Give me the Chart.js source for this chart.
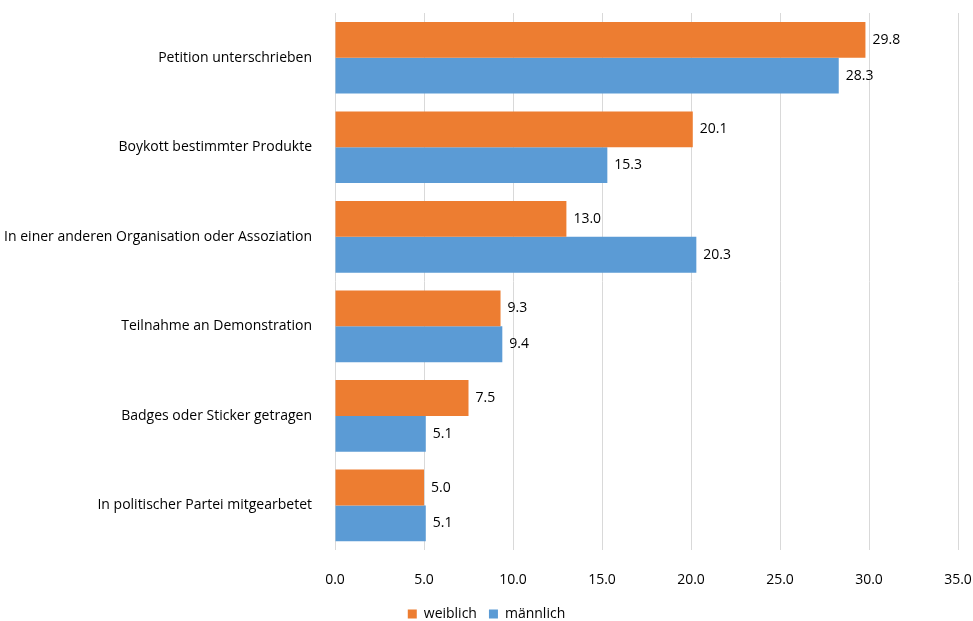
<!DOCTYPE html>
<html>
<head>
<meta charset="utf-8">
<script src="https://cdn.jsdelivr.net/npm/chart.js@4"></script>
<style>
  html, body { margin: 0; padding: 0; background: #fff; }
  #chart { display: block; }
</style>
</head>
<body>
<canvas id="chart" width="973" height="621"></canvas>
<script>
const categories = [
    'Petition unterschrieben',
    'Boykott bestimmter Produkte',
    'In einer anderen Organisation oder Assoziation',
    'Teilnahme an Demonstration',
    'Badges oder Sticker getragen',
    'In politischer Partei mitgearbetet'
];
const weiblich = [29.8, 20.1, 13.0, 9.3, 7.5, 5.0];
const maennlich = [28.3, 15.3, 20.3, 9.4, 5.1, 5.1];
const xTicks = [0, 5, 10, 15, 20, 25, 30, 35];

const fontFamily = '"Open Sans", "Liberation Sans", sans-serif';

// simple value labels at bar ends
const valueLabels = {
    id: 'valueLabels',
    afterDatasetsDraw(chart) {
        const ctx = chart.ctx;
        ctx.save();
        ctx.font = '14px ' + fontFamily;
        ctx.fillStyle = '#000';
        ctx.textBaseline = 'middle';
        ctx.textAlign = 'left';
        chart.data.datasets.forEach((ds, i) => {
            chart.getDatasetMeta(i).data.forEach((bar, j) => {
                ctx.fillText(ds.data[j].toFixed(1), bar.x + 7, bar.y);
            });
        });
        ctx.restore();
    }
};

const ctx = document.getElementById('chart').getContext('2d');
const chart = new Chart(ctx, {
    type: 'bar',
    data: {
        labels: categories,
        datasets: [
            { label: 'weiblich', data: weiblich, backgroundColor: '#ED7D31' },
            { label: 'männlich', data: maennlich, backgroundColor: '#5B9BD5' }
        ]
    },
    options: {
        indexAxis: 'y',
        responsive: false,
        animation: false,
        layout: { padding: { top: 13, right: 0, left: 0, bottom: -10 } },
        datasets: {
            bar: { categoryPercentage: 0.8, barPercentage: 1.0 }
        },
        scales: {
            x: {
                min: 0,
                max: 35,
                afterBuildTicks: (axis) => { axis.ticks = xTicks.map(v => ({ value: v })); },
                afterFit: (axis) => {
                    axis.paddingRight = 15;
                    axis.height -= 14;
                },
                grid: { color: '#d9d9d9', drawTicks: false },
                border: { display: false },
                ticks: {
                    padding: 21,
                    color: '#000',
                    font: { family: fontFamily, size: 14 },
                    callback: (v) => Number(v).toFixed(1)
                }
            },
            y: {
                afterFit: (axis) => {
                    axis.width = 335;
                    axis.paddingTop = 0;
                    axis.paddingBottom = 0;
                },
                grid: { display: false },
                border: { display: false },
                ticks: {
                    padding: 15,
                    color: '#000',
                    font: { family: fontFamily, size: 14 }
                }
            }
        },
        plugins: {
            legend: {
                position: 'bottom',
                labels: {
                    boxWidth: 9,
                    boxHeight: 9,
                    padding: 12,
                    color: '#000',
                    font: { family: fontFamily, size: 14 }
                }
            },
            tooltip: { enabled: false }
        }
    },
    plugins: [valueLabels]
});
</script>
</body>
</html>
